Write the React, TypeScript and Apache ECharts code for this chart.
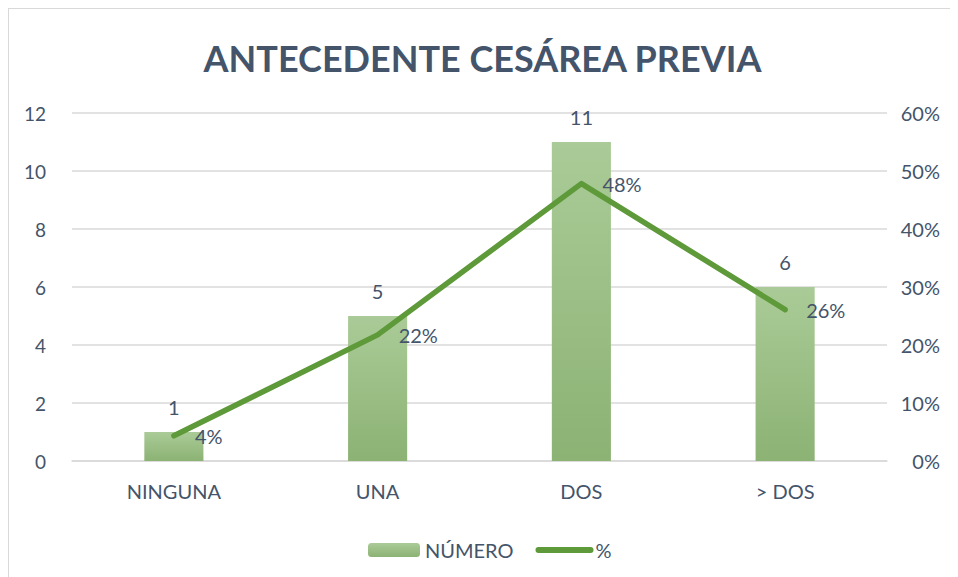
import React, { useEffect, useRef } from "react";
import * as echarts from "echarts";

const categories = ["NINGUNA", "UNA", "DOS", "> DOS"];
const numero = [1, 5, 11, 6];
const porcentaje = [4.35, 21.74, 47.83, 26.09];
const leftTicks = { min: 0, max: 12, interval: 2 };
const rightTicks = { min: 0, max: 60, interval: 10 };

const TEXT = "#44546A";
const FONT = "Lato, 'Noto Sans', sans-serif";
const GREEN = "#5E9A3A";

export default function App() {
  const ref = useRef<HTMLDivElement>(null);
  useEffect(() => {
    const chart = echarts.init(ref.current!, null, { renderer: "svg" });
    chart.setOption({
      animation: false,
      textStyle: { fontFamily: FONT, color: TEXT },
      title: {
        text: "ANTECEDENTE CESÁREA PREVIA",
        left: "center",
        top: 26,
        textStyle: { fontFamily: FONT, fontSize: 36, fontWeight: "bold", color: TEXT },
      },
      grid: { left: 63, right: 69, top: 104, height: 348 },
      legend: {
        bottom: 12,
        left: 354,
        itemWidth: 52,
        itemHeight: 14,
        itemGap: 22,
        textStyle: { fontFamily: FONT, fontSize: 20, color: TEXT },
        data: [
          { name: "NÚMERO" },
          {
            name: "%",
            itemStyle: { opacity: 0 },
            lineStyle: { width: 6, cap: "round", color: GREEN },
          },
        ],
      },
      xAxis: {
        type: "category",
        data: categories,
        axisTick: { show: false },
        axisLine: { lineStyle: { color: "#D9D9D9", width: 1.5 } },
        axisLabel: { fontFamily: FONT, fontSize: 20, color: TEXT, margin: 20 },
      },
      yAxis: [
        {
          type: "value",
          ...leftTicks,
          axisLabel: { fontFamily: FONT, fontSize: 19, color: TEXT, margin: 26 },
          splitLine: { lineStyle: { color: "#D9D9D9", width: 1.5 } },
          axisLine: { show: false },
        },
        {
          type: "value",
          ...rightTicks,
          position: "right",
          axisLabel: {
            fontFamily: FONT,
            fontSize: 20,
            color: TEXT,
            margin: 53,
            align: "right",
            formatter: "{value}%",
          },
          splitLine: { show: false },
          axisLine: { show: false },
        },
      ],
      series: [
        {
          name: "NÚMERO",
          type: "bar",
          data: numero,
          barWidth: "29%",
          itemStyle: {
            color: new echarts.graphic.LinearGradient(0, 0, 0, 1, [
              { offset: 0, color: "#AACB97" },
              { offset: 1, color: "#8CB274" },
            ]),
          },
          label: {
            show: true,
            position: "top",
            distance: 15,
            fontFamily: FONT,
            fontSize: 20,
            color: TEXT,
          },
        },
        {
          name: "%",
          type: "line",
          yAxisIndex: 1,
          data: porcentaje,
          symbol: "circle",
          showSymbol: true,
          symbolSize: 0.1,
          lineStyle: { color: GREEN, width: 5.5, cap: "round", join: "round" },
          itemStyle: { color: GREEN },
          label: {
            show: true,
            position: "right",
            distance: 21,
            fontFamily: FONT,
            fontSize: 20,
            color: TEXT,
            formatter: (p: any) => Math.round(p.value) + "%",
          },
        },
      ],
    });
    return () => chart.dispose();
  }, []);
  return (
    <div
      style={{
        width: 947,
        height: 568,
        borderTop: "1px solid #D9D9D9",
        borderLeft: "1px solid #D9D9D9",
        borderRight: "1px solid #D9D9D9",
        background: "#fff",
      }}
    >
      <div ref={ref} style={{ width: 947, height: 568 }} />
    </div>
  );
}
